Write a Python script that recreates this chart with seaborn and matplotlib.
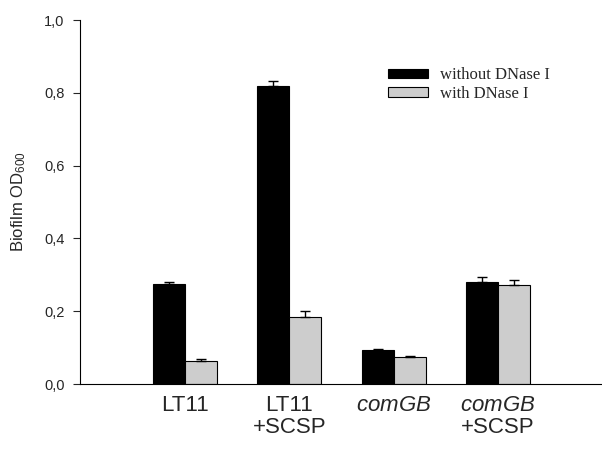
import matplotlib
matplotlib.use("Agg")
import matplotlib.pyplot as plt
import seaborn as sns
import pandas as pd
import numpy as np

strains = ["LT11", "LT11\n+SCSP", r"$\it{comGB}$", r"$\it{comGB}$" + "\n+SCSP"]
conditions = ["without DNase I", "with DNase I"]
without_vals = [0.275, 0.819, 0.093, 0.280]
with_vals = [0.063, 0.184, 0.074, 0.272]
without_err = [0.005, 0.014, 0.002, 0.014]
with_err = [0.006, 0.017, 0.002, 0.013]
yticks = [0.0, 0.2, 0.4, 0.6, 0.8, 1.0]
ytick_labels = ["0,0", "0,2", "0,4", "0,6", "0,8", "1,0"]

sns.set_style("white")
plt.rcParams["font.family"] = ["Liberation Sans", "DejaVu Sans"]
plt.rcParams["mathtext.fontset"] = "custom"
plt.rcParams["mathtext.rm"] = "Liberation Sans"
plt.rcParams["mathtext.it"] = "Liberation Sans:italic"

df = pd.DataFrame({
    "strain": strains * 2,
    "condition": [conditions[0]] * 4 + [conditions[1]] * 4,
    "value": without_vals + with_vals,
    "err": without_err + with_err,
})

fig = plt.figure(figsize=(6.02, 4.5), dpi=100)
ax = fig.add_axes([80 / 602, 1 - 384 / 450, 522 / 602, 364 / 450])

sns.barplot(data=df, x="strain", y="value", hue="condition", order=strains,
            hue_order=conditions, palette=["#000000", "#cdcdcd"],
            width=0.615, errorbar=None, edgecolor="black", linewidth=0.8,
            ax=ax)

# error bars (upper only) from bar geometry
bars = [p for p in ax.patches if p.get_height() > 0]
errs = without_err + with_err
for p, e in zip(bars, errs):
    xc = p.get_x() + p.get_width() / 2
    ax.errorbar(xc, p.get_height(), yerr=[[0], [e]], fmt="none",
                ecolor="black", elinewidth=1.0, capsize=3.5, capthick=1.0)

ax.set_xlim(-1.01, 4.0)
ax.set_ylim(0, 1.0)
ax.set_yticks(yticks)
ax.set_yticklabels(ytick_labels, fontsize=10.5)
ax.tick_params(axis="y", direction="out", length=5, width=0.8, pad=6, left=True)
ax.tick_params(axis="x", length=0, pad=8, labelsize=16)
for t in ax.get_xticklabels():
    t.set_linespacing(1.05)
ax.set_xlabel("")
ax.set_ylabel(r"Biofilm OD$_{\mathrm{600}}$", fontsize=12, labelpad=12)

for s in ["top", "right"]:
    ax.spines[s].set_visible(False)
ax.spines["left"].set_linewidth(0.8)
ax.spines["bottom"].set_linewidth(0.8)
ax.spines["left"].set_color("black")
ax.spines["bottom"].set_color("black")

leg = ax.legend(loc="upper left", bbox_to_anchor=(0.59, 0.87), frameon=False,
                prop={"family": "Liberation Serif", "size": 12},
                handlelength=2.4, handleheight=0.5, labelspacing=0.15,
                handletextpad=0.7, borderaxespad=0, borderpad=0)

fig.savefig("out.png", dpi=100)
